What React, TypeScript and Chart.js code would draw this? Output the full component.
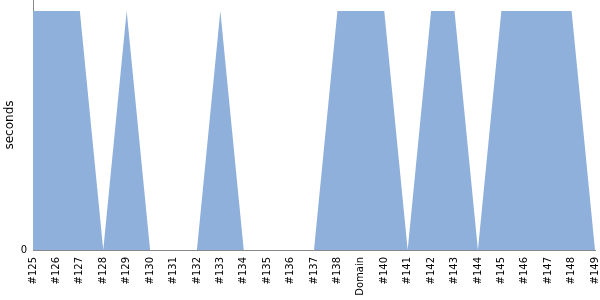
import React, { useEffect, useRef } from "react";
import { Chart, registerables } from "chart.js";

Chart.register(...registerables);

const categories = [
  "#125", "#126", "#127", "#128", "#129", "#130", "#131", "#132", "#133", "#134",
  "#135", "#136", "#137", "#138", "Domain", "#140", "#141", "#142", "#143", "#144",
  "#145", "#146", "#147", "#148", "#149",
];
const seconds = [1, 1, 1, 0, 1, 0, 0, 0, 1, 0, 0, 0, 0, 1, 1, 1, 0, 1, 1, 0, 1, 1, 1, 1, 0];
const yTicks = [0];

export default function App() {
  const ref = useRef<HTMLCanvasElement | null>(null);
  useEffect(() => {
    document.body.style.margin = "0";
    const ctx = ref.current!;
    const chart = new Chart(ctx, {
      type: "line",
      data: {
        labels: categories,
        datasets: [
          {
            label: "seconds",
            data: seconds,
            fill: "origin",
            backgroundColor: "rgb(143,176,218)",
            borderColor: "rgb(143,176,218)",
            borderWidth: 0,
            pointRadius: 0,
            tension: 0,
          },
        ],
      },
      options: {
        animation: false,
        responsive: false,
        maintainAspectRatio: false,
        layout: { padding: { left: 0, right: 5, top: 0, bottom: 0 } },
        plugins: { legend: { display: false }, tooltip: { enabled: false } },
        scales: {
          x: {
            grid: { display: false, drawTicks: false },
            border: { color: "#888", width: 1 },
            ticks: {
              autoSkip: false,
              maxRotation: 90,
              minRotation: 90,
              padding: 7,
              color: "#000",
              font: { family: "DejaVu Sans", size: 10 },
            },
            afterFit: (s: any) => {
              s.height = 50;
              s.paddingLeft = 0;
              s.paddingRight = 0;
            },
          },
          y: {
            min: 0,
            max: 1.046,
            grid: { display: false, drawTicks: false },
            border: { color: "#888", width: 1 },
            afterBuildTicks: (s: any) => {
              s.ticks = yTicks.map((v) => ({ value: v }));
            },
            ticks: {
              padding: 6,
              color: "#000",
              font: { family: "DejaVu Sans", size: 10 },
            },
            title: {
              display: true,
              text: "seconds",
              color: "#000",
              font: { family: "DejaVu Sans", size: 12 },
              padding: { top: 3, bottom: 0 },
            },
            afterFit: (s: any) => {
              s.width = 33;
              s.paddingTop = 0;
              s.paddingBottom = 0;
            },
          },
        },
      },
    });
    return () => chart.destroy();
  }, []);
  return (
    <div style={{ position: "absolute", left: 0, top: 0, width: 600, height: 300 }}>
      <canvas ref={ref} width={600} height={300} style={{ width: 600, height: 300 }} />
    </div>
  );
}
